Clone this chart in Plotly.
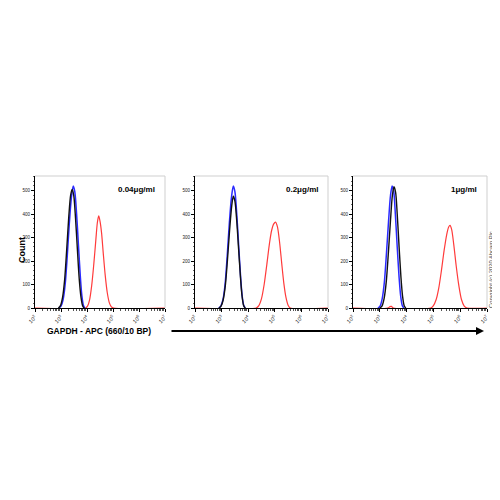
import plotly.graph_objects as go

# ---------------- data (log10 of GAPDH-APC intensity, count) ----------------
panel_titles = ["0.04μg/ml", "0.2μg/ml", "1μg/ml"]
y_tick_vals = [0, 100, 200, 300, 400, 500]
x_tick_vals = [2, 3, 4, 5, 6, 7]

# panel 1
p1_blue_x = [2.92, 3.00, 3.08, 3.16, 3.24, 3.32, 3.40, 3.47, 3.53, 3.60, 3.67, 3.74, 3.80, 3.86, 3.92]
p1_blue_y = [0, 8, 35, 100, 220, 360, 470, 519, 495, 400, 270, 140, 55, 12, 0]
p1_black_x = [2.90, 2.98, 3.06, 3.14, 3.22, 3.30, 3.37, 3.43, 3.49, 3.56, 3.63, 3.70, 3.77, 3.83, 3.89]
p1_black_y = [0, 10, 45, 120, 250, 390, 480, 505, 480, 380, 250, 125, 45, 10, 0]
p1_red_x = [2.0, 3.95, 4.02, 4.10, 4.18, 4.26, 4.34, 4.40, 4.45, 4.50, 4.56, 4.62, 4.70, 4.78, 4.86, 4.94, 5.02, 7.0]
p1_red_y = [0, 0, 8, 35, 95, 185, 290, 365, 392, 370, 320, 240, 140, 65, 22, 5, 0, 0]

# panel 2
p2_blue_x = [2.89, 2.97, 3.05, 3.13, 3.21, 3.29, 3.37, 3.44, 3.50, 3.57, 3.64, 3.71, 3.77, 3.83, 3.89]
p2_blue_y = [0, 8, 35, 100, 220, 360, 470, 519, 495, 400, 270, 140, 55, 12, 0]
p2_black_x = [2.90, 2.98, 3.06, 3.14, 3.22, 3.30, 3.38, 3.44, 3.50, 3.57, 3.64, 3.71, 3.77, 3.83, 3.89]
p2_black_y = [0, 8, 35, 95, 205, 330, 435, 476, 455, 370, 250, 130, 50, 10, 0]
p2_red_x = [2.0, 4.30, 4.40, 4.50, 4.60, 4.70, 4.80, 4.88, 4.96, 5.03, 5.10, 5.18, 5.26, 5.34, 5.42, 5.50, 5.58, 7.0]
p2_red_y = [0, 0, 10, 40, 100, 185, 275, 330, 358, 366, 345, 280, 190, 105, 45, 12, 0, 0]

# panel 3
p3_blue_x = [2.93, 3.01, 3.09, 3.17, 3.25, 3.33, 3.40, 3.46, 3.52, 3.58, 3.65, 3.72, 3.78, 3.84, 3.90]
p3_blue_y = [0, 8, 40, 110, 235, 375, 480, 519, 495, 400, 260, 130, 50, 10, 0]
p3_black_x = [3.00, 3.08, 3.16, 3.24, 3.32, 3.40, 3.47, 3.53, 3.59, 3.65, 3.72, 3.79, 3.85, 3.91, 3.97]
p3_black_y = [0, 8, 40, 110, 235, 375, 480, 516, 492, 400, 260, 130, 50, 10, 0]
p3_red_x = [2.0, 3.30, 3.38, 3.43, 3.50, 4.90, 5.00, 5.10, 5.20, 5.30, 5.40, 5.50, 5.57, 5.62, 5.68, 5.76, 5.85, 5.95, 6.05, 6.15, 6.25, 7.0]
p3_red_y = [0, 0, 6, 7, 0, 0, 10, 35, 85, 160, 245, 315, 345, 352, 335, 270, 180, 95, 35, 8, 0, 0]

panels = [
    (p1_red_x, p1_red_y, p1_blue_x, p1_blue_y, p1_black_x, p1_black_y),
    (p2_red_x, p2_red_y, p2_blue_x, p2_blue_y, p2_black_x, p2_black_y),
    (p3_red_x, p3_red_y, p3_blue_x, p3_blue_y, p3_black_x, p3_black_y),
]

# ---------------- layout ----------------
W = 500
OFF = 8  # page body margin: figure is drawn 8px right/down of the window corner


def px(x):
    return (x - OFF) / W


def py(y):
    return 1 - (y - OFF) / W


x_domains = [(px(35), px(165)), (px(195), px(328)), (px(353), px(487))]
y_domain = (py(308), py(176))

RED = "#ff3b3b"
BLUE = "#2a2aff"
BLACK = "#111111"

fig = go.Figure()
layout = dict(
    width=500, height=500,
    margin=dict(l=0, r=0, t=0, b=0, pad=0, autoexpand=False),
    paper_bgcolor="white", plot_bgcolor="white",
    showlegend=False,
    font=dict(family="Liberation Sans, Arial, sans-serif", color="black"),
)
shapes = []
annotations = []

for i, (rx, ry, bx, by, kx, ky) in enumerate(panels):
    n = "" if i == 0 else str(i + 1)
    xa, ya = "x" + n, "y" + n
    for xs, ys, c, w in [(rx, ry, RED, 1.2), (bx, by, BLUE, 1.5), (kx, ky, BLACK, 1.4)]:
        fig.add_trace(go.Scatter(
            x=[10 ** v for v in xs], y=ys, mode="lines",
            line=dict(color=c, width=w, shape="spline", smoothing=0.8),
            xaxis=xa, yaxis=ya, hoverinfo="skip", cliponaxis=False,
        ))
    layout["xaxis" + n] = dict(
        domain=x_domains[i], anchor=ya, type="log", range=[2, 7],
        tickvals=[10 ** v for v in x_tick_vals],
        ticktext=["10<sup>%d</sup>" % v for v in x_tick_vals],
        ticks="outside", ticklen=3, tickwidth=1, tickcolor="black",
        tickangle=-45, tickfont=dict(size=5.5, color="#222"),
        minor=dict(ticks="outside", ticklen=2, tickcolor="#555", dtick="D1", showgrid=False),
        showline=True, linecolor="black", linewidth=1, layer="below traces",
        showgrid=False, zeroline=False, fixedrange=True, automargin=False,
    )
    layout["yaxis" + n] = dict(
        domain=y_domain, anchor=xa, range=[0, 562],
        tickvals=y_tick_vals, ticks="outside", ticklen=3, tickwidth=1,
        tickcolor="black", tickfont=dict(size=4.5, color="#222"),
        minor=dict(ticks="outside", ticklen=1.5, tickcolor="#666", dtick=20, showgrid=False),
        showline=True, linecolor="black", linewidth=1, layer="below traces",
        showgrid=False, zeroline=False, fixedrange=True, automargin=False,
    )
    # light grey top / right frame
    shapes.append(dict(type="line", xref=xa + " domain", yref=ya + " domain",
                       x0=0, x1=1, y0=1, y1=1, line=dict(color="#cfcfcf", width=1)))
    shapes.append(dict(type="line", xref=xa + " domain", yref=ya + " domain",
                       x0=1, x1=1, y0=0, y1=1, line=dict(color="#cfcfcf", width=1)))
    annotations.append(dict(
        text="<b>%s</b>" % panel_titles[i], xref=xa + " domain", yref=ya + " domain",
        x=0.94, y=0.90, xanchor="right", yanchor="middle", showarrow=False,
        font=dict(size=8, color="black"),
    ))

annotations += [
    dict(text="<b>Count</b>", xref="paper", yref="paper", x=px(22), y=py(250),
         xanchor="center", yanchor="middle",
         textangle=-90, showarrow=False, font=dict(size=9)),
    dict(text="<b>GAPDH - APC (660/10 BP)</b>", xref="paper", yref="paper",
         x=px(99), y=py(331), xanchor="center", yanchor="middle",
         showarrow=False, font=dict(size=8.5)),
    dict(text="Copyright (c) 2020 Abcam Plc", xref="paper", yref="paper",
         x=px(491), y=py(270), xanchor="center", yanchor="middle",
         textangle=-90, showarrow=False,
         font=dict(size=5.8, color="#444")),
    dict(text="", xref="paper", yref="paper", axref="pixel", ayref="pixel",
         x=px(484), y=py(331), ax=-314, ay=0,
         showarrow=True, arrowhead=2, arrowsize=0.8, arrowwidth=2, arrowcolor="black"),
]

layout["shapes"] = shapes
layout["annotations"] = annotations
fig.update_layout(**layout)
fig.write_html("out.html")
